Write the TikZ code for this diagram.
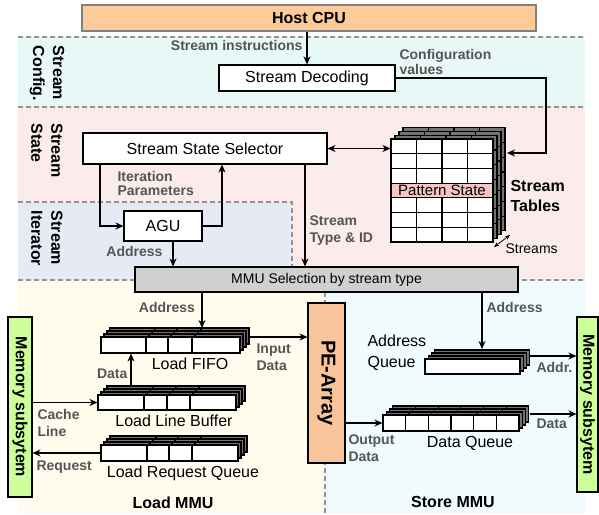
\documentclass[tikz,border=0pt]{standalone}
\usepackage{fontspec}
\setmainfont{Liberation Sans}
\usetikzlibrary{arrows.meta,positioning}

\definecolor{cpuorange}{RGB}{253,203,153}
\definecolor{peorange}{RGB}{249,196,154}
\definecolor{memgreen}{RGB}{204,255,153}
\definecolor{cfgbg}{RGB}{232,248,246}
\definecolor{statebg}{RGB}{251,235,234}
\definecolor{iterbg}{RGB}{229,234,245}
\definecolor{loadbg}{RGB}{255,252,238}
\definecolor{storebg}{RGB}{239,251,252}
\definecolor{lblgray}{RGB}{85,85,85}
\definecolor{patpink}{RGB}{244,199,195}
\definecolor{mmugray}{RGB}{208,208,208}

\tikzset{every picture/.style={line width=1.1pt}}
\tikzset{
  blk/.style={draw, fill=white, inner sep=0pt},
  lbl/.style={font=\fontsize{14}{17}\selectfont\bfseries, text=lblgray, inner sep=0pt},
  ttl/.style={font=\fontsize{16}{20}\selectfont\bfseries, inner sep=0pt},
  txt/.style={font=\fontsize{16}{21}\selectfont, inner sep=0pt},
  zonesep/.style={draw=gray!85, line width=1.2pt, dash pattern={on 5pt off 3pt}},
  arr/.style={-{Stealth[length=8pt,width=7pt]}},
  backlayer/.style={draw, fill=black!55},
}

\begin{document}
\begin{tikzpicture}[x=1pt,y=1pt,yscale=-1]
	\useasboundingbox (0,0) rectangle (599,514);

	%Shape: Zones
	\fill[cfgbg] (18,37) rectangle (585,107);
	\fill[statebg] (18,107) rectangle (585,280);
	\fill[iterbg] (18,202) rectangle (292,280);
	\fill[loadbg] (18,280) rectangle (325,514);
	\fill[storebg] (325,280) rectangle (585,514);
	%Straight Lines: zone borders
	\draw[zonesep] (18,37) -- (585,37);
	\draw[zonesep] (18,107) -- (585,107);
	\draw[zonesep] (18,202) -- (292,202) -- (292,280);
	\draw[zonesep] (18,280) -- (585,280);
	\draw[zonesep] (325,292) -- (325,514);

	% Text Node: zone names
	\node[ttl, rotate=-90, align=left] (cfgzone) at (47,73.5) {Stream\\Config.};
	\node[ttl, rotate=-90, align=left] (statezone) at (47,150.5) {Stream\\State};
	\node[ttl, rotate=-90, align=left] (iterzone) at (47,238.5) {Stream\\Iterator};

	%Shape: Host CPU
	\node[draw=gray, fill=cpuorange, minimum width=454, minimum height=26, ttl] (cpu) at (309,18) {Host CPU};
	%Shape: Stream Decoding
	\node[blk, txt, minimum width=176, minimum height=26] (dec) at (307,78) {Stream Decoding};
	\draw[arr] (dec.north |- cpu.south) -- (dec.north);
	% Text Node
	\node[lbl, anchor=east] (instlbl) at (303,45) {Stream instructions};
	% Text Node
	\node[lbl, anchor=west, align=left, font=\fontsize{14}{15}\selectfont\bfseries] (cfglbl) at (399,62) {Configuration\\values};

	%Shape: Stream Tables (back layers)
	\foreach \k in {3,2,1} {
		\draw[backlayer, shift={(4*\k,-3.7*\k)}] (391,139) rectangle (493,242)
			(416.5,139) -- (416.5,242) (442,139) -- (442,242) (467.5,139) -- (467.5,242)
			(391,153.71) -- (493,153.71) (391,168.43) -- (493,168.43) (391,183.14) -- (493,183.14)
			(391,197.86) -- (493,197.86) (391,212.57) -- (493,212.57) (391,227.29) -- (493,227.29);
	}
	%Shape: Stream Tables (front)
	\node[blk, minimum width=102, minimum height=103] (tab) at (442,190.5) {};
	\draw (416.5,139) -- (416.5,183.14) (442,139) -- (442,183.14) (467.5,139) -- (467.5,183.14)
		(416.5,197.86) -- (416.5,242) (442,197.86) -- (442,242) (467.5,197.86) -- (467.5,242)
		(391,153.71) -- (493,153.71) (391,168.43) -- (493,168.43)
		(391,212.57) -- (493,212.57) (391,227.29) -- (493,227.29);
	\node[draw, fill=patpink, minimum width=102, minimum height=14.7, inner sep=0pt, font=\fontsize{15}{18}\selectfont] (pat) at (442,190.5) {Pattern State};
	% Text Node
	\node[ttl, anchor=west, align=left] (tablbl) at (510,196) {Stream\\Tables};
	\coordinate (strA) at (494,247);
	\coordinate (strB) at (510,235);
	\draw[{Stealth[length=5pt,width=4pt]}-{Stealth[length=5pt,width=4pt]}, line width=0.8pt] (strA) -- (strB);
	\node[anchor=west, inner sep=0pt, font=\fontsize{14}{16}\selectfont] (strlbl) at (505,249) {Streams};

	%Straight Lines: configuration values
	\coordinate (cfgturn) at (546,78);
	\coordinate (tabin) at (507,153);
	\draw[arr] (dec.east) -- (cfgturn) |- (tabin);

	%Shape: Stream State Selector
	\node[blk, txt, minimum width=244, minimum height=31] (sel) at (205,148.5) {Stream State Selector};
	\draw[{Stealth[length=8pt,width=7pt]}-{Stealth[length=8pt,width=7pt]}] (sel.east) -- (sel.east -| tab.west);

	%Shape: AGU
	\node[blk, txt, minimum width=78, minimum height=30] (agu) at (163,226) {AGU};
	\draw[arr] ([xshift=-105pt]sel.south) |- (agu.west);
	\draw[arr] (agu.east) -| ([xshift=17pt]sel.south);
	% Text Node
	\node[lbl, anchor=west, align=left, font=\fontsize{14}{14.5}\selectfont\bfseries] (itlbl) at (117,183.5) {Iteration\\Parameters};

	%Shape: MMU Selection
	\node[draw, fill=mmugray, minimum width=383, minimum height=25, inner sep=0pt, font=\fontsize{14}{16}\selectfont] (mmu) at (326.5,279.5) {MMU Selection by stream type};
	\draw[arr] ([xshift=10pt]agu.south) -- ([xshift=10pt]agu.south |- mmu.north);
	\node[lbl, anchor=east] (agulbl) at (163,251) {Address};
	\draw[arr] ([xshift=100pt]sel.south) -- ([xshift=100pt]sel.south |- mmu.north);
	\node[lbl, anchor=west, align=left] (typelbl) at (309,231) {Stream\\Type \& ID};

	%Shape: Memory subsystems
	\node[draw, fill=memgreen, minimum width=24, minimum height=180, inner sep=0pt] (memL) at (20,407) {};
	\node[ttl, rotate=-90] (memLtxt) at (memL.center) {Memory subsytem};
	\node[draw, fill=memgreen, minimum width=21, minimum height=175, inner sep=0pt] (memR) at (587.5,404.5) {};
	\node[ttl, rotate=-90] (memRtxt) at (memR.center) {Memory subsytem};

	%Shape: PE-Array
	\node[draw, fill=peorange, minimum width=37, minimum height=160, inner sep=0pt] (pe) at (326.5,383) {};
	\node[font=\fontsize{20}{24}\selectfont\bfseries, inner sep=0pt, rotate=-90] (petxt) at (pe.center) {PE-Array};

	%Shape: Load FIFO
	\foreach \k in {3,2,1}
		\draw[backlayer, shift={(3*\k,-3*\k)}] (101,337) rectangle (240,353) (146,337) -- (146,353) (168,337) -- (168,353) (192,337) -- (192,353);
	\node[blk, minimum width=139, minimum height=16] (lfifo) at (170.5,345) {};
	\draw (146,337) -- (146,353) (168,337) -- (168,353) (192,337) -- (192,353);
	\node[txt] (lfifotxt) at (190,364) {Load FIFO};
	\coordinate (lfifotop) at (202,328);
	\draw[arr] (mmu.south -| lfifotop) -- (lfifotop);
	\node[lbl] (lfifolbl) at (167,307) {Address};
	\coordinate (fifoout) at (249,337);
	\draw[arr] (fifoout) -- (fifoout -| pe.west);
	\node[lbl, anchor=west, align=left] (inlbl) at (256,357) {Input\\Data};

	%Shape: Load Line Buffer
	\foreach \k in {3,2,1}
		\draw[backlayer, shift={(3*\k,-3*\k)}] (98,395) rectangle (236,410) (144,395) -- (144,410) (167,395) -- (167,410) (190,395) -- (190,410);
	\node[blk, minimum width=138, minimum height=15] (llb) at (167,402.5) {};
	\draw (144,395) -- (144,410) (167,395) -- (167,410) (190,395) -- (190,410);
	\node[txt] (llbtxt) at (174,421) {Load Line Buffer};
	\coordinate (llbtop) at (131,386);
	\draw[arr] (llbtop) -- (llbtop |- lfifo.south);
	\node[lbl, anchor=east] (datalbl) at (128,374) {Data};
	\draw[arr] (llb.west -| memL.east) -- (llb.west);
	\node[lbl, anchor=west, align=left] (cachelbl) at (37,423) {Cache\\Line};

	%Shape: Load Request Queue
	\foreach \k in {3,2,1}
		\draw[backlayer, shift={(3*\k,-3*\k)}] (101,445) rectangle (238,461) (147,445) -- (147,461) (169,445) -- (169,461) (192,445) -- (192,461);
	\node[blk, minimum width=137, minimum height=16] (lrq) at (169.5,453) {};
	\draw (147,445) -- (147,461) (169,445) -- (169,461) (192,445) -- (192,461);
	\node[txt] (lrqtxt) at (183,473) {Load Request Queue};
	\draw[arr] (lrq.west) -- (lrq.west -| memL.east);
	\node[lbl, anchor=west] (reqlbl) at (36,467) {Request};

	% Text Node
	\node[ttl] (loadmmu) at (173,503) {Load MMU};

	%Shape: Address Queue
	\foreach \k in {3,2,1}
		\draw[backlayer, shift={(3.3*\k,-3*\k)}] (425,359) rectangle (520,374);
	\node[blk, minimum width=95, minimum height=15] (aq) at (472.5,366.5) {};
	\node[txt, anchor=west, align=left] (aqtxt) at (367,352.5) {Address\\Queue};
	\coordinate (aqtop) at (482,349);
	\draw[arr] (mmu.south -| aqtop) -- (aqtop);
	\node[lbl, anchor=west] (aqlbl) at (486,307) {Address};
	\coordinate (aqout) at (530,356);
	\draw[arr] (aqout) -- (aqout -| memR.west);
	\node[lbl, anchor=west] (addrlbl) at (536,367) {Addr.};

	%Shape: Data Queue
	\foreach \k in {3,2,1}
		\draw[backlayer, shift={(3.3*\k,-3*\k)}] (383,415) rectangle (519,431)
			(405.7,415) -- (405.7,431) (428.3,415) -- (428.3,431) (451,415) -- (451,431) (473.7,415) -- (473.7,431) (496.3,415) -- (496.3,431);
	\node[blk, minimum width=136, minimum height=16] (dq) at (451,423) {};
	\draw (405.7,415) -- (405.7,431) (428.3,415) -- (428.3,431) (451,415) -- (451,431) (473.7,415) -- (473.7,431) (496.3,415) -- (496.3,431);
	\node[txt] (dqtxt) at (470,443) {Data Queue};
	\draw[arr] (pe.east |- dq.west) -- (dq.west);
	\node[lbl, anchor=west, align=left] (outlbl) at (348,448) {Output\\Data};
	\coordinate (dqout) at (530,414);
	\draw[arr] (dqout) -- (dqout -| memR.west);
	\node[lbl, anchor=west] (dqlbl) at (536,424) {Data};

	% Text Node
	\node[ttl] (storemmu) at (453,502) {Store MMU};

\end{tikzpicture}
\end{document}
